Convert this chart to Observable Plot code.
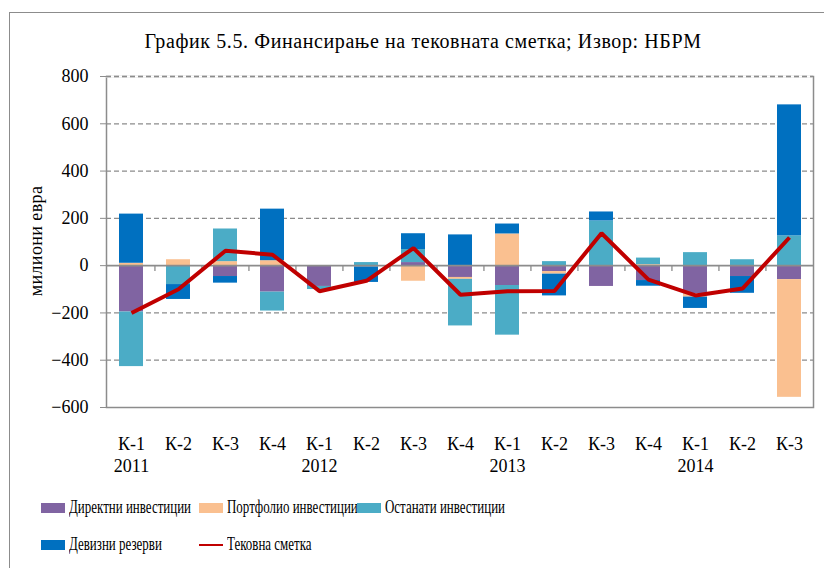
<!DOCTYPE html>
<html>
<head>
<meta charset="utf-8">
<script src="https://cdn.jsdelivr.net/npm/d3@7"></script>
<script src="https://cdn.jsdelivr.net/npm/@observablehq/plot@0.6"></script>
<style>
  html, body { margin: 0; padding: 0; background: #fff; }
  #wrap { position: relative; width: 824px; height: 568px; overflow: hidden; background: #fff;
          font-family: "Liberation Serif", serif; color: #000; }
  #frame { position: absolute; left: 9px; top: 12px; width: 900px; height: 700px; border: 1.5px solid #8c8c8c; box-sizing: border-box; }
  #title { position: absolute; top: 30px; left: 0; width: 846px; text-align: center; font-size: 20px; white-space: nowrap; letter-spacing: 0.6px; }
  #ylabel { position: absolute; left: 36px; top: 241px; font-size: 18px; white-space: nowrap; letter-spacing: 0.4px;
            transform: translate(-50%, -50%) rotate(-90deg); }
  #chart { position: absolute; left: 0; top: 0; }
  .leg { position: absolute; font-size: 18px; white-space: nowrap; line-height: 1; transform: scaleX(0.72); transform-origin: 0 50%; }
  .sw { position: absolute; width: 24px; height: 10px; }
  .ln { position: absolute; width: 24px; height: 2px; }
</style>
</head>
<body>
<div id="wrap">
  <div id="frame"></div>
  <div id="title">График 5.5. Финансирање на тековната сметка; Извор: НБРМ</div>
  <div id="ylabel">милиони евра</div>
  <div id="chart"></div>
  <div id="legend"></div>
</div>
<script>
const quarters = ["К-1","К-2","К-3","К-4","К-1","К-2","К-3","К-4","К-1","К-2","К-3","К-4","К-1","К-2","К-3"];
const years    = ["2011","","","","2012","","","","2013","","","","2014","",""];

const seriesNames = ["Директни инвестиции","Портфолио инвестиции","Останати инвестиции","Девизни резерви"];
const seriesColors = ["#8064A2","#FAC090","#4BACC6","#0070C0"];
const lineName = "Тековна сметка";
const lineColor = "#C00000";

const direct    = [-196,   0, -46, -112, -88,   0,  13,  -50, -84, -25, -88, -63, -120, -46,  -59];
const portfolio = [  10,  25,  17,   21,   0,  -5, -66,   -8, 134, -11,   0,   4,  -13,   0, -498];
const other     = [-231, -80, 138,  -80, -13,  13,  55, -197, -210, 17, 189,  28,   55,  25,  126];
const reserves  = [ 208, -63, -28,  218,   0, -66,  67,  130,  42, -92,  38, -24,  -48, -71,  554];
const currentAccount = [-200, -100, 63, 46, -108, -64, 74, -123, -108, -107, 137, -59, -126, -97, 119];

const yTicks = [-600, -400, -200, 0, 200, 400, 600, 800];

const seriesValues = [direct, portfolio, other, reserves];
const idx = d3.range(quarters.length);
const bars = [];
idx.forEach(i => seriesValues.forEach((vals, s) => {
  if (vals[i] !== 0) bars.push({i, series: seriesNames[s], value: vals[i]});
}));
const lineData = idx.map(i => ({i, value: currentAccount[i]}));
const yearTicks = idx.filter(i => years[i] !== "");
const bandStep = (813 - 106) / quarters.length;

const plot = Plot.plot({
  width: 824,
  height: 568,
  marginTop: 76,
  marginBottom: 161,
  marginLeft: 106,
  marginRight: 11,
  style: {fontFamily: "Liberation Serif, serif", fontSize: "18px", background: "transparent", overflow: "visible"},
  x: {type: "band", domain: idx, paddingInner: 0.49, paddingOuter: 0.245, axis: null},
  y: {domain: [-600, 800], axis: null},
  color: {domain: seriesNames, range: seriesColors},
  marks: [
    Plot.ruleY(yTicks.filter(d => d !== 0 && d !== -600), {stroke: "#8c8c8c", strokeWidth: 1.3, strokeDasharray: "5,3"}),
    Plot.frame({stroke: "#8c8c8c", strokeWidth: 1.5}),
    Plot.ruleY([800], {stroke: "#fff", strokeWidth: 2}),
    Plot.ruleY([800], {stroke: "#8c8c8c", strokeWidth: 1.3, strokeDasharray: "5,3"}),
    Plot.barY(bars, {x: "i", y: "value", fill: "series"}),
    Plot.ruleY([0], {stroke: "#8c8c8c", strokeWidth: 1.6}),
    Plot.ruleX(idx.slice(1), {x: d => d, y1: 0, y2: -25, dx: -bandStep / 2, stroke: "#8c8c8c", strokeWidth: 1.3}),
    Plot.axisY(yTicks, {tickSize: 6, tickPadding: 12, stroke: "#8c8c8c", fill: "#000", fontSize: 18, label: null}),
    Plot.axisX(idx, {tickFormat: i => quarters[i], tickSize: 0, tickPadding: 30, fill: "#000", fontSize: 18, label: null}),
    Plot.axisX(yearTicks, {tickFormat: i => years[i], tickSize: 0, tickPadding: 52, fill: "#000", fontSize: 18, label: null}),
    Plot.line(lineData, {x: "i", y: "value", stroke: lineColor, strokeWidth: 4, strokeLinejoin: "miter", strokeLinecap: "butt"})
  ]
});
document.getElementById("chart").appendChild(plot);

// legend
const legend = document.getElementById("legend");
const legItems = [
  {name: seriesNames[0], color: seriesColors[0], type: "sw", x: 41, y: 508},
  {name: seriesNames[1], color: seriesColors[1], type: "sw", x: 199, y: 508},
  {name: seriesNames[2], color: seriesColors[2], type: "sw", x: 357, y: 508},
  {name: seriesNames[3], color: seriesColors[3], type: "sw", x: 41, y: 545},
  {name: lineName, color: lineColor, type: "ln", x: 199, y: 545}
];
legItems.forEach(it => {
  const s = document.createElement("div");
  s.className = it.type;
  s.style.background = it.color;
  s.style.left = it.x + "px";
  s.style.top = (it.y - (it.type === "sw" ? 5 : 1)) + "px";
  legend.appendChild(s);
  const t = document.createElement("div");
  t.className = "leg";
  t.textContent = it.name;
  t.style.left = (it.x + 28) + "px";
  t.style.top = (it.y - 10) + "px";
  legend.appendChild(t);
});
</script>
</body>
</html>
